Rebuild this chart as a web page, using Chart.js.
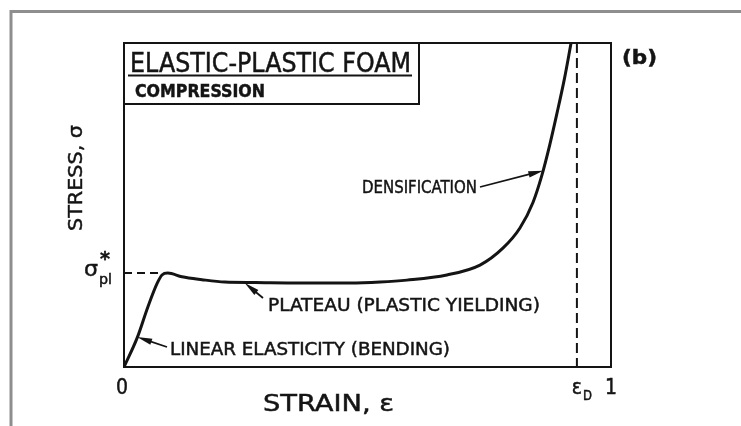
<!DOCTYPE html>
<html>
<head>
<meta charset="utf-8">
<script src="https://cdn.jsdelivr.net/npm/chart.js@4/dist/chart.umd.min.js"></script>
<style>
  html, body { margin: 0; padding: 0; background: #fff; overflow: hidden; }
  canvas { display: block; }
</style>
</head>
<body>
<canvas id="c" width="741" height="426"></canvas>
<script>
// Compressive stress-strain curve of an elastic-plastic foam.
// Stress is expressed relative to the plastic collapse stress (sigma*_pl = 1).
const strain = [0, 0.027, 0.049, 0.068, 0.078, 0.090, 0.119, 0.160, 0.207, 0.269, 0.361, 0.464,
                0.526, 0.581, 0.663, 0.731, 0.778, 0.813, 0.840, 0.858, 0.874, 0.889, 0.904, 0.918];
const stress = [0, 0.31, 0.64, 0.89, 0.98, 1.00, 0.96, 0.93, 0.905, 0.90, 0.895, 0.895,
                0.905, 0.925, 0.98, 1.085, 1.265, 1.48, 1.755, 2.04, 2.36, 2.70, 3.06, 3.45];

const plateauStress = 1.0;        // sigma*_pl
const densificationStrain = 0.93; // epsilon_D
const stressMax = 3.45;

// strain-axis tick labels (main glyph + subscript)
const xTickValues = [0, densificationStrain, 1];
const xTickLabels = ['0', 'ε', '1'];
const xTickSubs   = ['', 'D', ''];

// labelled regions of the curve and the point on the curve each arrow points at
const regionNames   = ['DENSIFICATION', 'PLATEAU (PLASTIC YIELDING)', 'LINEAR ELASTICITY (BENDING)'];
const regionStrain  = [0.861, 0.248, 0.027];
const regionStress  = [2.09, 0.894, 0.32];

const FONT = '"Liberation Sans Narrow","DejaVu Sans Condensed","Liberation Sans","DejaVu Sans",sans-serif';
const INK = '#141414';

// label layout: left x, baseline, drawn width, font size, arrow tail
const regionLayout = [
  { x: 362, base: 193, w: 115, size: 18, tail: [480, 187] },
  { x: 268, base: 311, w: 272, size: 18, tail: [263, 298] },
  { x: 170, base: 355, w: 280, size: 18, tail: [167, 347] }
];

// draws text squeezed/stretched to a given width, with a slight stroke for a heavier print look
function fitText(ctx, text, x, base, width, size, weight) {
  ctx.font = `${weight || 'normal'} ${size}px ${FONT}`;
  const m = ctx.measureText(text).width;
  ctx.save();
  ctx.translate(x, base);
  ctx.scale(width / m, 1);
  ctx.textAlign = 'left';
  ctx.textBaseline = 'alphabetic';
  ctx.fillText(text, 0, 0);
  ctx.lineWidth = 0.45;
  ctx.strokeText(text, 0, 0);
  ctx.restore();
}

function arrow(ctx, x0, y0, x1, y1) {
  const a = Math.atan2(y1 - y0, x1 - x0);
  const len = 15, hw = 3.2;
  ctx.beginPath();
  ctx.moveTo(x0, y0);
  ctx.lineTo(x1 - Math.cos(a) * len * 0.6, y1 - Math.sin(a) * len * 0.6);
  ctx.lineWidth = 1.8;
  ctx.stroke();
  ctx.beginPath();
  ctx.moveTo(x1, y1);
  ctx.lineTo(x1 - Math.cos(a) * len - Math.sin(a) * hw, y1 - Math.sin(a) * len + Math.cos(a) * hw);
  ctx.lineTo(x1 - Math.cos(a) * len + Math.sin(a) * hw, y1 - Math.sin(a) * len - Math.cos(a) * hw);
  ctx.closePath();
  ctx.fill();
}

const foamDecor = {
  id: 'foamDecor',
  beforeDraw(chart) {
    const ctx = chart.ctx;
    ctx.save();
    ctx.fillStyle = '#fff';
    ctx.fillRect(0, 0, chart.width, chart.height);
    // outer grey frame
    ctx.strokeStyle = '#8e8e8e';
    ctx.lineWidth = 3;
    ctx.beginPath();
    ctx.moveTo(11, chart.height);
    ctx.lineTo(11, 11.5);
    ctx.lineTo(chart.width, 11.5);
    ctx.stroke();
    ctx.restore();
  },
  beforeDatasetsDraw(chart) {
    const { ctx, chartArea: a, scales: { x, y } } = chart;
    ctx.save();
    ctx.strokeStyle = INK;
    ctx.lineWidth = 2;
    // plateau stress level
    const yp = y.getPixelForValue(plateauStress);
    ctx.setLineDash([8, 5]);
    ctx.beginPath();
    ctx.moveTo(a.left, yp);
    ctx.lineTo(x.getPixelForValue(0.075), yp);
    ctx.stroke();
    // densification strain
    const xd = x.getPixelForValue(densificationStrain);
    ctx.setLineDash([10, 5]);
    ctx.beginPath();
    ctx.moveTo(xd, a.top);
    ctx.lineTo(xd, a.bottom);
    ctx.stroke();
    ctx.restore();
  },
  afterDatasetsDraw(chart) {
    const { ctx, chartArea: a, scales: { x, y } } = chart;
    ctx.save();
    ctx.strokeStyle = INK;
    ctx.fillStyle = INK;
    // plot frame
    ctx.lineWidth = 2;
    ctx.strokeRect(a.left, a.top, a.right - a.left, a.bottom - a.top);

    // title box
    ctx.strokeRect(a.left, a.top, 419 - a.left, 104 - a.top);
    fitText(ctx, 'ELASTIC-PLASTIC FOAM', 130, 72, 281, 26, 'normal');
    ctx.lineWidth = 2;
    ctx.beginPath();
    ctx.moveTo(128, 75.5);
    ctx.lineTo(412, 75.5);
    ctx.stroke();
    fitText(ctx, 'COMPRESSION', 135, 97, 130, 18, 'bold');

    // panel tag
    fitText(ctx, '(b)', 622, 64, 35, 20, 'bold');

    // axis titles
    ctx.save();
    ctx.translate(75, 178);
    ctx.rotate(-Math.PI / 2);
    fitText(ctx, 'STRESS, σ', -53, 7, 106, 20, 'normal');
    ctx.restore();
    fitText(ctx, 'STRAIN, ε', 263, 411, 131, 23, 'normal');

    // plateau stress label
    const yp = y.getPixelForValue(plateauStress);
    fitText(ctx, 'σ', 84, yp + 3, 14, 22, 'normal');
    fitText(ctx, 'pl', 99, yp + 11, 13, 14, 'normal');
    fitText(ctx, '*', 100, yp - 8, 10, 20, 'bold');

    // strain tick labels
    xTickValues.forEach((v, i) => {
      const px = x.getPixelForValue(v);
      const main = xTickLabels[i];
      ctx.font = `normal 21px ${FONT}`;
      const w = ctx.measureText(main).width;
      const off = i === 0 ? -2 : 0;
      fitText(ctx, main, px - w / 2 + off, 394, w, 21, 'normal');
      if (xTickSubs[i]) {
        fitText(ctx, xTickSubs[i], px + w / 2 + 1, 400, 9, 14, 'normal');
      }
    });

    // region labels with arrows to the curve
    regionNames.forEach((name, i) => {
      const L = regionLayout[i];
      fitText(ctx, name, L.x, L.base, L.w, L.size, 'normal');
      arrow(ctx, L.tail[0], L.tail[1],
            x.getPixelForValue(regionStrain[i]), y.getPixelForValue(regionStress[i]));
    });
    ctx.restore();
  }
};

new Chart(document.getElementById('c'), {
  type: 'scatter',
  data: {
    datasets: [{
      data: strain.map((e, i) => ({ x: e, y: stress[i] })),
      showLine: true,
      borderColor: INK,
      borderWidth: 3,
      pointRadius: 0,
      cubicInterpolationMode: 'monotone',
      fill: false
    }]
  },
  options: {
    responsive: false,
    animation: false,
    devicePixelRatio: 1,
    layout: { padding: { left: 124, right: 130, top: 43, bottom: 59 } },
    plugins: { legend: { display: false }, tooltip: { enabled: false } },
    scales: {
      x: { type: 'linear', min: 0, max: 1, display: false },
      y: { type: 'linear', min: 0, max: stressMax, display: false }
    }
  },
  plugins: [foamDecor]
});
</script>
</body>
</html>
